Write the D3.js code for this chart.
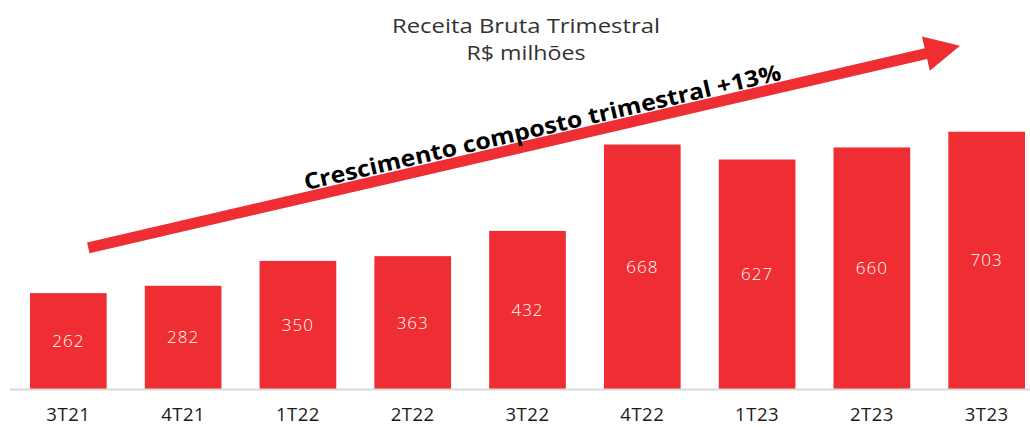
<!DOCTYPE html>
<html><head><meta charset="utf-8">
<script src="https://cdn.jsdelivr.net/npm/d3@7"></script>
<style>
html,body{margin:0;padding:0;background:#fff;}
svg{display:block;}
</style></head>
<body>
<svg id="c" width="1030" height="427"></svg>
<script>
const categories = ["3T21","4T21","1T22","2T22","3T22","4T22","1T23","2T23","3T23"];
const values = [262,282,350,363,432,668,627,660,703];
const titleLines = ["Receita Bruta Trimestral","R$ milhões"];
const arrowLabel = "Crescimento composto trimestral +13%";

const svg = d3.select("#c");
const baseY = 389;
const x = d3.scaleBand().domain(categories).range([30,1025]).paddingInner(0.332).paddingOuter(0);
const y = d3.scaleLinear().domain([0,1000]).range([baseY, baseY-366]);

// title
const titleW = [268,119];
svg.append("g").selectAll("text").data(titleLines).join("text")
  .attr("x", 526).attr("y", (d,i)=>33+i*27)
  .attr("text-anchor","middle")
  .attr("font-family","'Open Sans', sans-serif").attr("font-weight",400)
  .attr("font-size",20).attr("fill","#333")
  .attr("textLength",(d,i)=>titleW[i]).attr("lengthAdjust","spacingAndGlyphs")
  .text(d=>d);

// bars
svg.append("g").selectAll("rect").data(values).join("rect")
  .attr("x",(d,i)=>x(categories[i]))
  .attr("y",d=>y(d))
  .attr("width",x.bandwidth())
  .attr("height",d=>y(0)-y(d))
  .attr("fill","#EE2E33");

// value labels
svg.append("g").selectAll("text").data(values).join("text")
  .attr("x",(d,i)=>x(categories[i])+x.bandwidth()/2)
  .attr("y",d=>(y(d)+y(0))/2)
  .attr("dy","0.35em")
  .attr("text-anchor","middle")
  .attr("font-family","'Open Sans', sans-serif").attr("font-weight",300)
  .attr("font-size",17).attr("letter-spacing",1).attr("fill","#fff")
  .text(d=>d);

// axis
const axis = d3.axisBottom(x).tickSize(0).tickPadding(0);
const ag = svg.append("g").attr("transform",`translate(0,${baseY})`).call(axis);
ag.select(".domain").remove();
ag.selectAll("text").attr("font-family","'Open Sans', sans-serif").attr("font-size",18.5)
  .attr("letter-spacing",0.5)
  .attr("fill","#1a1a1a").attr("dy",null).attr("y",32);
svg.append("line").attr("x1",10).attr("x2",1030).attr("y1",baseY+0.5).attr("y2",baseY+0.5)
  .attr("stroke","#d9d9d9").attr("stroke-width",2);

// arrow
const tail = [88.3,247.8], tip = [960,45.7];
const L = Math.hypot(tip[0]-tail[0], tip[1]-tail[1]);
const ang = Math.atan2(tip[1]-tail[1], tip[0]-tail[0])*180/Math.PI;
const sw = 5.5, hl = 35, hw = 17.5;
const ar = svg.append("g").attr("transform",`translate(${tail[0]},${tail[1]}) rotate(${ang})`);
ar.append("path")
  .attr("d",`M0,${-sw} L${L-hl},${-sw} L${L-hl},${-hw} L${L},0 L${L-hl},${hw} L${L-hl},${sw} L0,${sw} Z`)
  .attr("fill","#EE2E33");
ar.append("text").attr("x",225).attr("y",-7)
  .attr("font-family","'Open Sans', sans-serif").attr("font-weight",700)
  .attr("font-size",22.5).attr("fill","#000")
  .attr("textLength",489).attr("lengthAdjust","spacingAndGlyphs")
  .text(arrowLabel);
</script>
</body></html>
